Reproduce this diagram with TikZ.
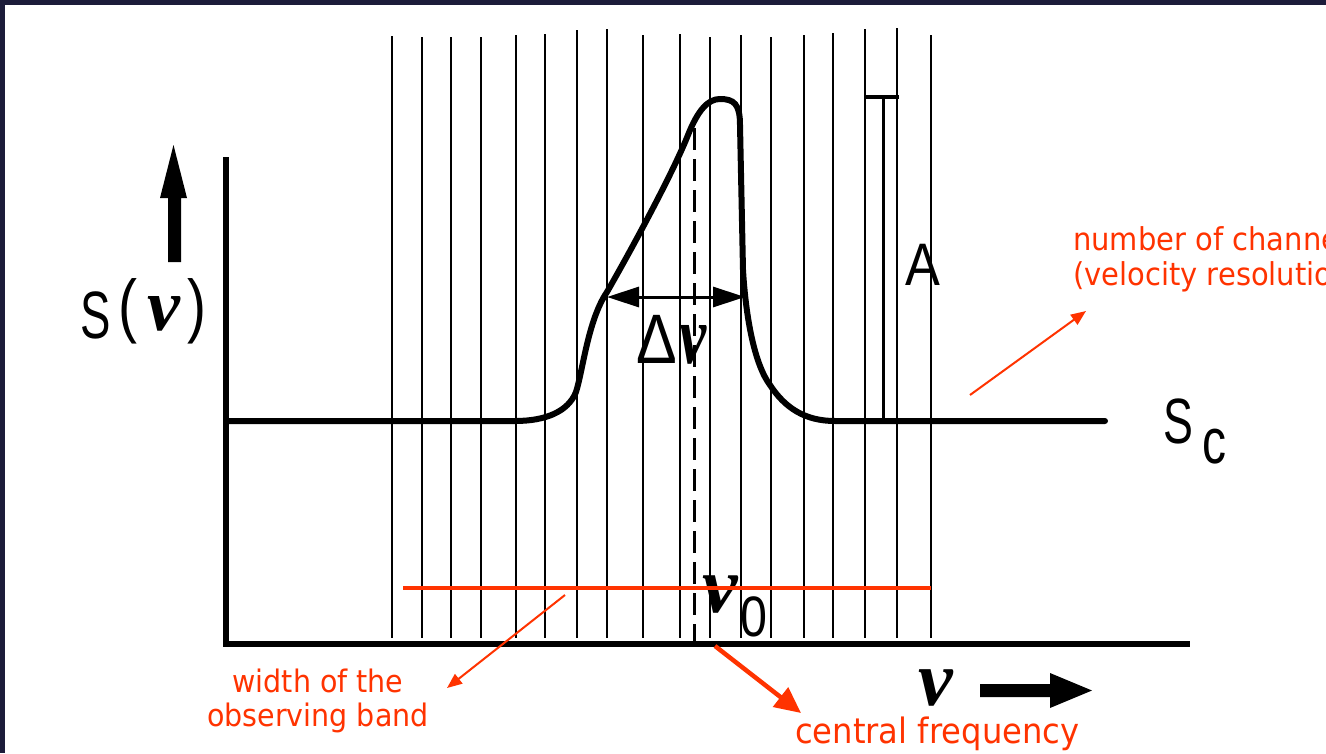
\documentclass[tikz,border=0pt]{standalone}
\usepackage{fontspec}
\usepackage{graphicx}
\usetikzlibrary{arrows.meta}
\newfontfamily\redf[FakeStretch=0.92]{DejaVu Sans}
\newfontfamily\lbl{Liberation Sans}
\newfontfamily\nuf{Liberation Serif}
\definecolor{navy}{HTML}{1C1C3A}
\definecolor{redann}{HTML}{FF3300}
\newcommand{\bnu}{{\nuf\bfseries\itshape ν}}
\begin{document}
\begin{tikzpicture}[x=1pt,y=-1pt,
  gridline/.style={line width=2.2pt},
  heavy/.style={line width=6pt, line cap=round, line join=round},
  ann/.style={draw=redann, line width=2pt, -{Triangle[length=15pt,width=12pt]}},
  annthick/.style={draw=redann, line width=4.5pt, -{Triangle[length=26pt,width=24pt]}},
  redtxt/.style={text=redann, inner sep=0pt, anchor=base},
  blk/.style={inner sep=0pt, anchor=base west},
]
\useasboundingbox (0,0) rectangle (1326,753);
\fill[navy] (0,0) rectangle (1326,753);
\fill[white] (5,5) rectangle (1326,753);

% channel grid lines
\foreach \x/\t in {392/36,422/37,451/37,481/37,516/35,545/34,577/30,607/29,643/35,680/34,710/37,741/35,771/37,804/35,833/33,865/29,897/28,931/35}
  \draw[gridline] (\x,\t) -- (\x,638);

% axes
\draw[line width=5.5pt] (226,157) -- (226,645);
\draw[line width=6pt] (223,644) -- (1190,644);

% central dashed line
\draw[line width=3pt, dash pattern=on 22pt off 9pt] (694,128) -- (694,642);

% spectrum
\draw[heavy] (226,421) -- (515,421)
  .. controls (545,421) and (568,412) .. (576,392)
  .. controls (583,370) and (588,320) .. (607,292)
  .. controls (630,252) and (672,175) .. (688,135)
  .. controls (698,110) and (708,99) .. (720,99)
  .. controls (734,99) and (740,104) .. (740,125)
  -- (743,270)
  .. controls (746,320) and (755,365) .. (770,385)
  .. controls (785,408) and (805,421) .. (835,421)
  -- (1105,421);

% line width arrow
\coordinate (dl) at (607,297);
\coordinate (dr) at (745,297);
\draw[line width=3pt, {Triangle[length=32pt,width=20pt]}-{Triangle[length=32pt,width=20pt]}] (dl) -- (dr);

% amplitude bar
\draw[line width=3pt] (883,97) -- (883,421);
\draw[line width=4pt] (864,97) -- (899,97);

% y-axis arrow
\fill (168,262) -- (168,198) -- (160,198) -- (173.5,145) -- (187,198) -- (181,198) -- (181,262) -- cycle;
% x-axis arrow
\fill (980,684) -- (1050,684) -- (1050,673) -- (1092,690.5) -- (1050,708) -- (1050,697) -- (980,697) -- cycle;

% black labels
\node[blk] (slabel) at (80,338) {\lbl\fontsize{67}{70}\selectfont\scalebox{0.68}[1]{S}\hspace{8pt}\raisebox{9pt}{\scalebox{0.85}[1.05]{(}}\hspace{10pt}\raisebox{8pt}{\fontsize{74}{76}\selectfont\bnu}\hspace{7pt}\raisebox{9pt}{\scalebox{0.85}[1.05]{)}}};
\node[blk] (dnu) at (636,363) {\lbl\fontsize{70}{72}\selectfont\scalebox{0.87}[1]{Δ}\hspace{3pt}\scalebox{0.85}[1.15]{\fontsize{72}{74}\selectfont\bnu}};
\node[blk] (alabel) at (905,285) {\lbl\fontsize{60}{62}\selectfont\scalebox{0.87}[1]{A}};
\node[blk] (scs) at (1163,443) {\lbl\fontsize{64}{66}\selectfont\scalebox{0.7}[1]{S}};
\node[blk] (scc) at (1202,463) {\lbl\fontsize{64}{66}\selectfont\scalebox{0.75}[1]{c}};
\node[blk] (nuzero) at (702,612) {\fontsize{80}{82}\selectfont\bnu};
\node[blk] (zero) at (740,636) {\lbl\fontsize{57}{60}\selectfont\scalebox{0.85}[1]{0}};
\node[blk] (nuaxis) at (918,705) {\fontsize{78}{80}\selectfont\bnu};

% observing band
\draw[redann, line width=4pt] (403,588) -- (931,588);

% red annotations
\node[redtxt, font=\redf\fontsize{31}{35}\selectfont] (band1) at (318,692) {width of the};
\node[redtxt, font=\redf\fontsize{31}{35}\selectfont] (band2) at (318,726) {observing band};
\node[redtxt, anchor=base west, font=\redf\fontsize{35}{40}\selectfont] (cfreq) at (795,743) {central frequency};
\begin{scope}
\clip (0,0) rectangle (1326,753);
\node[redtxt, anchor=base west, font=\redf\fontsize{31.5}{34}\selectfont] (nch1) at (1073,250) {number of channels};
\node[redtxt, anchor=base west, font=\redf\fontsize{31.5}{34}\selectfont] (nch2) at (1073,285) {(velocity resolution)};
\end{scope}

\coordinate (bandfrom) at (565,595);
\coordinate (bandto) at (447,688);
\draw[ann] (bandfrom) -- (bandto);
\coordinate (cffrom) at (715,646);
\coordinate (cfto) at (801,713);
\draw[annthick] (cffrom) -- (cfto);
\coordinate (chfrom) at (970,395);
\coordinate (chto) at (1086,311);
\draw[ann] (chfrom) -- (chto);
\end{tikzpicture}
\end{document}
